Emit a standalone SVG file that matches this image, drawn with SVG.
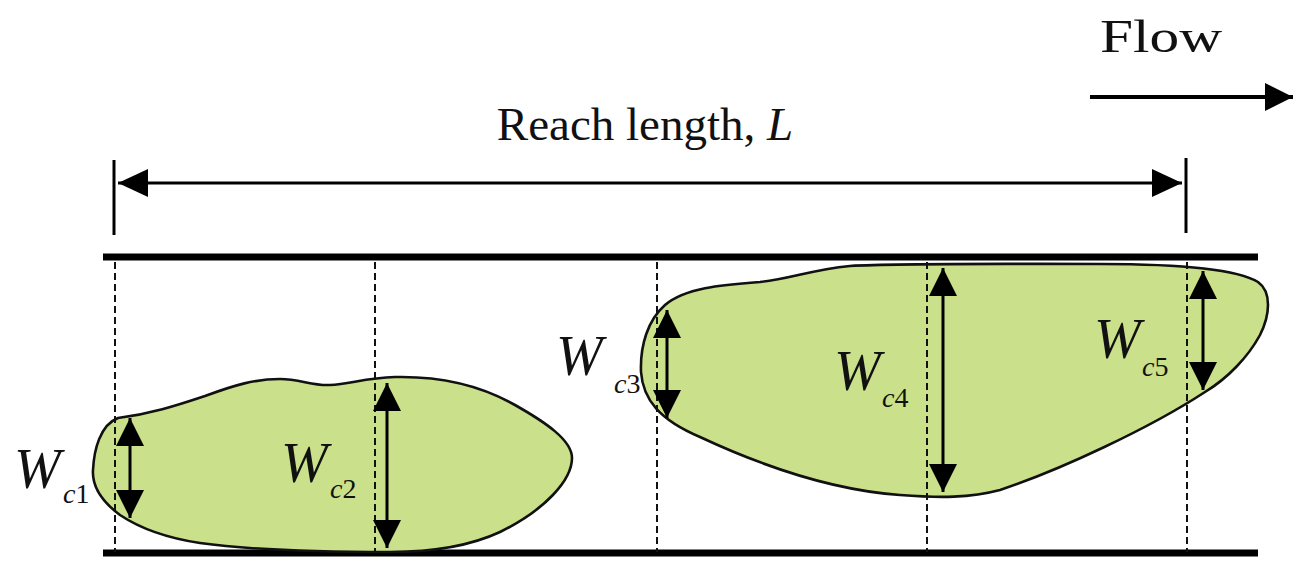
<svg xmlns="http://www.w3.org/2000/svg" width="1294" height="561" viewBox="0 0 1294 561">
<style>
  .bank { stroke:#000; stroke-width:7; fill:none; }
  .dash { stroke:#111; stroke-width:2; stroke-dasharray:7 4; fill:none; }
  .blob { fill:#cbe08a; stroke:#111; stroke-width:2.6; }
  .dim { stroke:#000; stroke-width:3; fill:none; marker-start:url(#ah); marker-end:url(#ah); }
  .tick { stroke:#000; stroke-width:3; fill:none; }
  .lbl { font-family:"Liberation Serif","Times New Roman",serif; fill:#111; }
  .W { font-size:56px; font-style:italic; }
  .sub { font-size:28px; }
</style>
<defs>
  <marker id="ah" markerUnits="userSpaceOnUse" markerWidth="28" markerHeight="28" refX="28" refY="14" orient="auto-start-reverse" viewBox="0 0 28 28">
    <path d="M0,0 L28,14 L0,28 Z" fill="#000"/>
  </marker>
  <marker id="ah2" markerUnits="userSpaceOnUse" markerWidth="30" markerHeight="28" refX="30" refY="14" orient="auto-start-reverse" viewBox="0 0 30 28">
    <path d="M0,0 L30,14 L0,28 Z" fill="#000"/>
  </marker>
</defs>

<g id="banks">
  <line class="bank" x1="103" y1="257" x2="1258" y2="257"/>
  <line class="bank" x1="103" y1="553" x2="1258" y2="553"/>
</g>

<g id="blob1">
  <path class="blob" d="M118,418 C150,414 175,406 205,396 C235,385 255,379 280,379 C300,379 312,386 330,385 C350,384 365,378 395,377 C440,376 480,385 515,405 C545,422 572,440 572,458 C572,480 545,510 500,532 C470,546 430,552 390,552 C320,552 250,550 200,543 C160,537 135,525 120,515 C100,500 92,485 93,470 C94,450 100,425 118,418 Z"/>
</g>
<g id="blob2">
  <path class="blob" d="M641,372 C640,345 648,320 665,305 C685,288 720,285 760,282 C790,279 810,270 850,266 C900,263 1000,264 1100,264 C1170,264 1235,268 1258,282 C1272,292 1270,315 1260,335 C1248,357 1228,378 1205,392 C1150,428 1060,470 1000,490 C970,498 940,498 900,495 C830,490 760,465 700,437 C660,420 643,400 641,372 Z"/>
</g>

<g id="dashed">
  <line class="dash" x1="115" y1="262" x2="115" y2="552"/>
  <line class="dash" x1="375" y1="262" x2="375" y2="552"/>
  <line class="dash" x1="657" y1="262" x2="657" y2="552"/>
  <line class="dash" x1="927" y1="262" x2="927" y2="552"/>
  <line class="dash" x1="1187" y1="262" x2="1187" y2="552"/>
</g>

<g id="connectors">
  <line class="tick" x1="114" y1="160" x2="114" y2="235"/>
  <line class="tick" x1="1186" y1="158" x2="1186" y2="233"/>
  <line x1="118" y1="183" x2="1182" y2="183" stroke="#000" stroke-width="3" marker-start="url(#ah2)" marker-end="url(#ah2)"/>
  <line x1="1090" y1="97" x2="1293" y2="97" stroke="#000" stroke-width="4" marker-end="url(#ah)"/>
  <line class="dim" x1="130" y1="418" x2="130" y2="518"/>
  <line class="dim" x1="387" y1="383" x2="387" y2="548"/>
  <line class="dim" x1="667" y1="310" x2="667" y2="418"/>
  <line class="dim" x1="943" y1="268" x2="943" y2="492"/>
  <line class="dim" x1="1203" y1="271" x2="1203" y2="390"/>
</g>

<g id="label-flow">
  <text class="lbl" x="1100" y="52" font-size="46" textLength="122" lengthAdjust="spacingAndGlyphs">Flow</text>
</g>
<g id="label-reach">
  <text class="lbl" x="645" y="140" font-size="47" text-anchor="middle">Reach length, <tspan font-style="italic">L</tspan></text>
</g>
<g id="label-wc1">
  <text class="lbl W" x="14" y="488">W</text>
  <text class="lbl sub" x="63" y="503"><tspan font-style="italic">c</tspan>1</text>
</g>
<g id="label-wc2">
  <text class="lbl W" x="281" y="482">W</text>
  <text class="lbl sub" x="330" y="498"><tspan font-style="italic">c</tspan>2</text>
</g>
<g id="label-wc3">
  <text class="lbl W" x="556" y="375">W</text>
  <text class="lbl sub" x="614" y="393"><tspan font-style="italic">c</tspan>3</text>
</g>
<g id="label-wc4">
  <text class="lbl W" x="834" y="390">W</text>
  <text class="lbl sub" x="882" y="407"><tspan font-style="italic">c</tspan>4</text>
</g>
<g id="label-wc5">
  <text class="lbl W" x="1094" y="358">W</text>
  <text class="lbl sub" x="1142" y="376"><tspan font-style="italic">c</tspan>5</text>
</g>
</svg>
